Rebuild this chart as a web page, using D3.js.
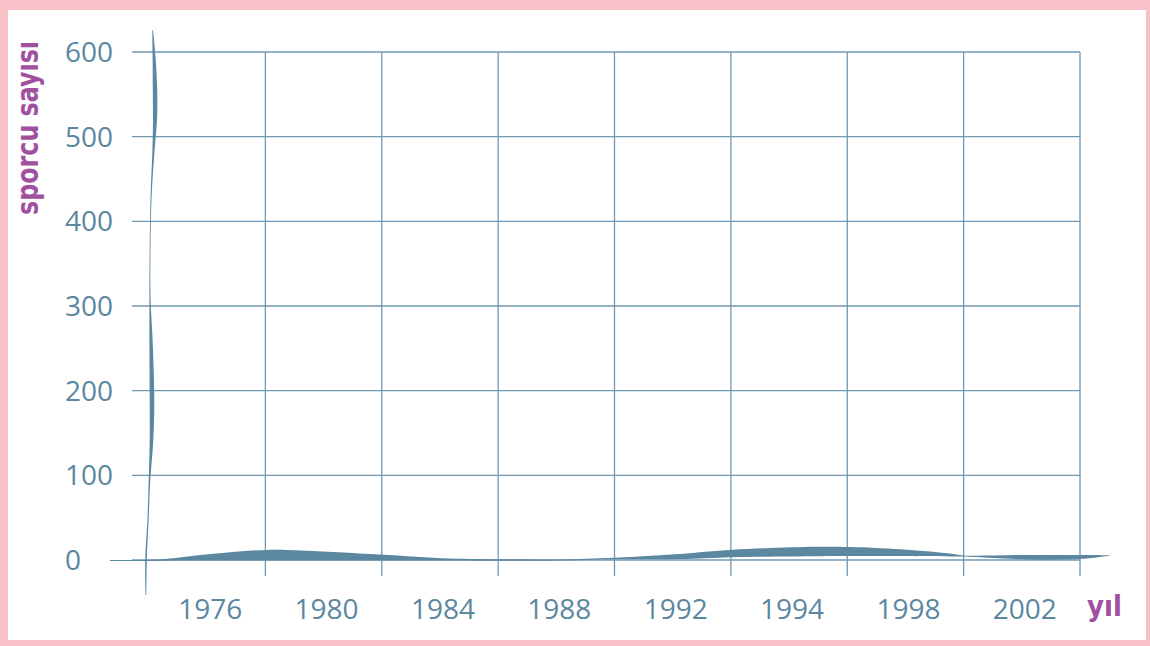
<!DOCTYPE html>
<html>
<head>
<meta charset="utf-8">
<script src="https://cdn.jsdelivr.net/npm/d3@7"></script>
<style>
    body { margin: 0; background: #ffffff; }
    svg { display: block; }
</style>
</head>
<body>
<div id="chart"></div>
<script>
// chart values
var years = ["1976", "1980", "1984", "1988", "1992", "1994", "1998", "2002"];
var yTicks = [0, 100, 200, 300, 400, 500, 600];
var yTitle = "sporcu sayısı";
var xTitle = "yıl";

// brush-stroke look of the two axes: [position along axis (0..1), offset px, half width px]
var xBrush = [
    [-0.042, 0.5, 0.4], [-0.004, 0.5, 0.6], [0.02, -0.3, 1.0], [0.055, -2.3, 2.8],
    [0.09, -3.8, 4.3], [0.127, -4.8, 5.3], [0.162, -4.5, 5], [0.248, -2.5, 3],
    [0.323, -0.5, 0.9], [0.377, 0, 0.7], [0.441, 0, 0.6], [0.5, -1.5, 0.8],
    [0.570, -3.5, 2.5], [0.627, -6.5, 3.7], [0.717, -8.5, 4.7], [0.753, -8.5, 4.5],
    [0.807, -7.3, 3.4], [0.860, -5, 1.5], [0.875, -4, 0.6], [0.943, -2.8, 2.2],
    [1.0, -3, 2], [1.032, -4.5, 0.3]
];
var yBrush = [
    [1.043, 3.7, 0.4], [0.994, 5, 1.4], [0.925, 6, 2.2], [0.866, 6, 2.0],
    [0.807, 4.5, 1.1], [0.709, 2, 0.5], [0.591, 1, 0.4], [0.512, 1, 0.6],
    [0.433, 2, 1.6], [0.315, 3, 2.3], [0.236, 2.5, 1.8], [0.157, 0.5, 0.8],
    [0.079, -1, 0.6], [0, -3, 0.8], [-0.069, -3, 0.4]
];

var width = 1150, height = 646;
var gridColor = "#7198b2";
var inkColor = "#5b87a1";
var titleColor = "#a0509f";

var svg = d3.select("#chart")
    .append("svg")
    .attr("width", width)
    .attr("height", height);

// pink frame
svg.append("rect")
    .attr("width", width)
    .attr("height", height)
    .style("fill", "#f8c0c7");
svg.append("rect")
    .attr("x", 8)
    .attr("y", 10)
    .attr("width", 1138)
    .attr("height", 630)
    .style("fill", "#ffffff");

var x = d3.scaleBand()
    .domain(years)
    .range([149, 1080]);

var y = d3.scaleLinear()
    .domain([0, 600])
    .range([560, 52]);

// horizontal grid
svg.selectAll(".hgrid")
    .data(yTicks)
    .enter()
    .append("line")
    .attr("class", "hgrid")
    .attr("x1", 132)
    .attr("x2", x.range()[1])
    .attr("y1", function (d) { return y(d); })
    .attr("y2", function (d) { return y(d); })
    .style("stroke", gridColor)
    .style("stroke-width", 1.3);

// vertical grid at the band edges
svg.selectAll(".vgrid")
    .data(years)
    .enter()
    .append("line")
    .attr("class", "vgrid")
    .attr("x1", function (d) { return x(d) + x.bandwidth(); })
    .attr("x2", function (d) { return x(d) + x.bandwidth(); })
    .attr("y1", y(600))
    .attr("y2", y(0) + 16)
    .style("stroke", gridColor)
    .style("stroke-width", 1.3);

// brush axes
var x0 = x.range()[0], x1 = x.range()[1];
var xArea = d3.area()
    .x(function (d) { return x0 + d[0] * (x1 - x0); })
    .y0(function (d) { return y(0) + d[1] + d[2]; })
    .y1(function (d) { return y(0) + d[1] - d[2]; })
    .curve(d3.curveCatmullRom);

svg.append("path")
    .datum(xBrush)
    .attr("d", xArea)
    .style("fill", inkColor);

var yArea = d3.area()
    .y(function (d) { return y(0) + d[0] * (y(600) - y(0)); })
    .x0(function (d) { return x0 + d[1] - d[2]; })
    .x1(function (d) { return x0 + d[1] + d[2]; })
    .curve(d3.curveCatmullRom);

svg.append("path")
    .datum(yBrush)
    .attr("d", yArea)
    .style("fill", inkColor);

// tick labels
svg.selectAll(".ylabel")
    .data(yTicks)
    .enter()
    .append("text")
    .attr("class", "ylabel")
    .attr("x", 65)
    .attr("y", function (d) { return y(d); })
    .attr("dy", "0.36em")
    .style("font-family", "'Open Sans', sans-serif")
    .style("font-size", "28px")
    .style("fill", inkColor)
    .text(function (d) { return d; });

svg.selectAll(".xlabel")
    .data(years)
    .enter()
    .append("text")
    .attr("class", "xlabel")
    .attr("x", function (d) { return x(d) + x.bandwidth() / 2 + 3; })
    .attr("y", 619)
    .style("text-anchor", "middle")
    .style("font-family", "'Open Sans', sans-serif")
    .style("font-size", "28px")
    .style("fill", inkColor)
    .text(function (d) { return d; });

// axis titles
svg.append("text")
    .attr("transform", "translate(38, 128) rotate(-90)")
    .style("text-anchor", "middle")
    .attr("textLength", 174)
    .attr("lengthAdjust", "spacingAndGlyphs")
    .style("font-family", "'DejaVu Sans', sans-serif")
    .style("font-stretch", "condensed")
    .style("font-weight", "bold")
    .style("font-size", "31px")
    .style("fill", titleColor)
    .text(yTitle);

svg.append("text")
    .attr("x", 1087)
    .attr("y", 616)
    .style("font-family", "'DejaVu Sans', sans-serif")
    .style("font-stretch", "condensed")
    .style("font-weight", "bold")
    .style("font-size", "29px")
    .style("fill", titleColor)
    .text(xTitle);
</script>
</body>
</html>
